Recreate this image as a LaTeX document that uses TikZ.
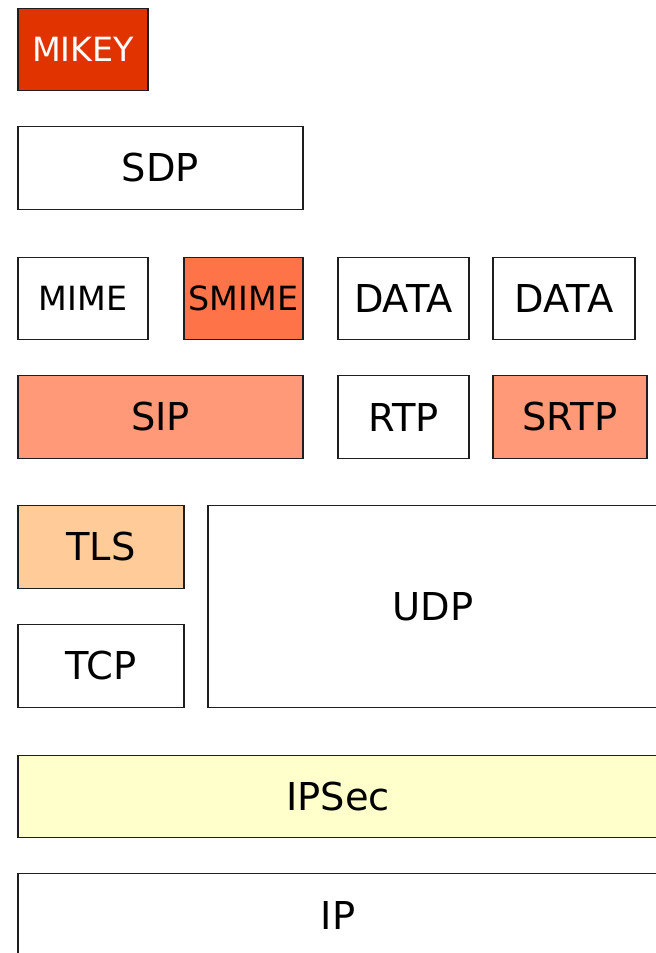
\documentclass[tikz,border=0pt]{standalone}
\usepackage{fontspec}
\setmainfont{DejaVu Sans}
\definecolor{cMikey}{RGB}{224,51,0}
\definecolor{cSmime}{RGB}{255,115,73}
\definecolor{cSip}{RGB}{255,153,119}
\definecolor{cTls}{RGB}{255,204,153}
\definecolor{cIpsec}{RGB}{255,255,204}
\definecolor{cLine}{RGB}{30,30,30}
\tikzset{
  layer/.style n args={4}{draw=cLine, line width=0.9pt, inner sep=0pt, outer sep=0pt,
    anchor=center, minimum width={(#3-#1)*0.75pt}, minimum height={(#4-#2)*0.75pt},
    font=\fontsize{28.8pt}{30pt}\selectfont, text=black},
  small/.style={font=\fontsize{25pt}{26pt}\selectfont}
}
\newcommand{\lay}[7]{\node[layer={#2}{#3}{#4}{#5}, #6] (#1) at ({(#2+#4)/2}, {(#3+#5)/2+0.5}) {#7};}
\begin{document}
\begin{tikzpicture}[x=0.75pt, y=-0.75pt]
\useasboundingbox (0,0) rectangle (656,953);
\clip (0,0) rectangle (656,953);
\lay{mikey}{18}{8}{148}{90}{fill=cMikey, small, text=white}{MIKEY}
\lay{sdp}{18}{126}{303}{209}{fill=white}{SDP}
\lay{mime}{18}{257}{148}{339}{fill=white, small}{MIME}
\lay{smime}{184}{257}{303}{339}{fill=cSmime, small}{SMIME}
\lay{data1}{338}{257}{469}{339}{fill=white}{DATA}
\lay{data2}{493}{257}{635}{339}{fill=white}{DATA}
\lay{sip}{18}{375}{303}{458}{fill=cSip}{SIP}
\lay{rtp}{338}{375}{469}{458}{fill=white}{RTP}
\lay{srtp}{493}{375}{647}{458}{fill=cSip}{SRTP}
\lay{tls}{18}{505}{184}{588}{fill=cTls}{TLS}
\lay{udp}{208}{505}{658}{707}{fill=white}{UDP}
\lay{tcp}{18}{624}{184}{707}{fill=white}{TCP}
\lay{ipsec}{18}{755}{658}{837}{fill=cIpsec}{IPSec}
\lay{ip}{18}{873}{658}{957}{fill=white}{IP}
\end{tikzpicture}
\end{document}
